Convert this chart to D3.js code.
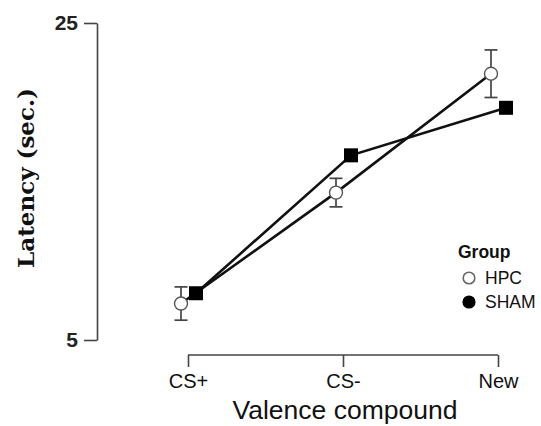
<!DOCTYPE html>
<html>
<head>
<meta charset="utf-8">
<script src="https://cdn.jsdelivr.net/npm/d3@7"></script>
<style>
  body { margin: 0; background: #fff; }
  text { font-family: "Liberation Sans", Arial, sans-serif; }
</style>
</head>
<body>
<div id="chart"></div>
<script>
const categories = ["CS+", "CS-", "New"];
const groups = ["HPC", "SHAM"];
const hpcMean = [7.3, 14.3, 21.8];
const hpcErr = [1.05, 0.9, 1.5];
const shamMean = [7.95, 16.65, 19.65];
const shamErr = [0.3, 0.35, 0.25];
const yTicks = [5, 25];

const width = 541, height = 426;
const margin = {top: 23, right: 35, bottom: 86, left: 97};
const sans = "'Liberation Sans', Arial, sans-serif";

const svg = d3.select("#chart").append("svg")
    .attr("width", width)
    .attr("height", height);

const x = d3.scalePoint(categories, [188, 498]);
const y = d3.scaleLinear([5, 25], [340, 23]);
const offset = {HPC: -7, SHAM: 8};

const series = [
    {name: "HPC", mean: hpcMean, err: hpcErr},
    {name: "SHAM", mean: shamMean, err: shamErr}
];

// axes
const yAxis = svg.append("g")
    .attr("transform", `translate(${margin.left},0)`)
    .call(d3.axisLeft(y).tickValues(yTicks).tickSize(13).tickPadding(6).tickSizeOuter(0));
yAxis.attr("font-family", null);
yAxis.select(".domain").attr("stroke", "#444").attr("stroke-width", 1.6);
yAxis.selectAll(".tick line").attr("stroke", "#444").attr("stroke-width", 1.6);
yAxis.selectAll(".tick text")
    .style("font-family", sans)
    .style("font-size", "21px").style("font-weight", "bold").attr("fill", "#222");

const xAxis = svg.append("g")
    .attr("transform", "translate(0,355)")
    .call(d3.axisBottom(x).tickSize(12).tickPadding(7).tickSizeOuter(0));
xAxis.attr("font-family", null);
xAxis.select(".domain").remove();
xAxis.append("line")
    .attr("x1", x("CS+")).attr("x2", x("New"))
    .attr("stroke", "#444").attr("stroke-width", 1.6);
xAxis.selectAll(".tick line").attr("stroke", "#444").attr("stroke-width", 1.6);
xAxis.selectAll(".tick text")
    .style("font-family", sans)
    .style("font-size", "20px").attr("fill", "#111");

svg.append("text")
    .attr("x", 345).attr("y", 419)
    .attr("text-anchor", "middle")
    .style("font-family", sans)
    .style("font-size", "26.5px").attr("fill", "#111")
    .text("Valence compound");

svg.append("text")
    .attr("transform", "translate(34,178) rotate(-90)")
    .attr("text-anchor", "middle")
    .style("font-family", "'DejaVu Serif', 'Liberation Serif', serif")
    .style("font-size", "23px").style("font-weight", "bold").attr("fill", "#111")
    .text("Latency (sec.)");

// lines
const line = d3.line()
    .x((d, i) => x(categories[i]) + offset[d.g])
    .y(d => y(d.v));

series.forEach(s => {
    svg.append("path")
        .datum(s.mean.map(v => ({v, g: s.name})))
        .attr("fill", "none")
        .attr("stroke", "#111")
        .attr("stroke-width", 2.6)
        .attr("d", line);
});

// error bars
series.forEach(s => {
    const g = svg.append("g").attr("stroke", "#444").attr("stroke-width", 1.7);
    s.mean.forEach((m, i) => {
        const cx = x(categories[i]) + offset[s.name];
        g.append("line").attr("x1", cx).attr("x2", cx)
            .attr("y1", y(m + s.err[i])).attr("y2", y(m - s.err[i]));
        [m + s.err[i], m - s.err[i]].forEach(v => {
            g.append("line").attr("x1", cx - 6.5).attr("x2", cx + 6.5)
                .attr("y1", y(v)).attr("y2", y(v));
        });
    });
});

// points
svg.append("g").selectAll("circle")
    .data(hpcMean)
    .join("circle")
    .attr("cx", (d, i) => x(categories[i]) + offset.HPC)
    .attr("cy", d => y(d))
    .attr("r", 6.5)
    .attr("fill", "#fff")
    .attr("stroke", "#555")
    .attr("stroke-width", 1.4);

svg.append("g").selectAll("rect")
    .data(shamMean)
    .join("rect")
    .attr("x", (d, i) => x(categories[i]) + offset.SHAM - 7)
    .attr("y", d => y(d) - 7)
    .attr("width", 14).attr("height", 14)
    .attr("fill", "#000");

// legend
const legend = svg.append("g").attr("transform", "translate(458,252)");
legend.append("text")
    .attr("x", 0).attr("y", 6)
    .style("font-family", sans)
    .style("font-size", "17.5px").style("font-weight", "bold").attr("fill", "#111")
    .text("Group");
groups.forEach((gname, i) => {
    const ly = 26 + i * 24;
    legend.append("circle")
        .attr("cx", 11).attr("cy", ly).attr("r", 5.8)
        .attr("fill", gname === "HPC" ? "#fff" : "#000")
        .attr("stroke", gname === "HPC" ? "#666" : "#000")
        .attr("stroke-width", 1.6);
    legend.append("text")
        .attr("x", 27).attr("y", ly + 6)
        .style("font-family", sans)
        .style("font-size", "17.5px").attr("fill", "#111")
        .text(gname);
});
</script>
</body>
</html>
